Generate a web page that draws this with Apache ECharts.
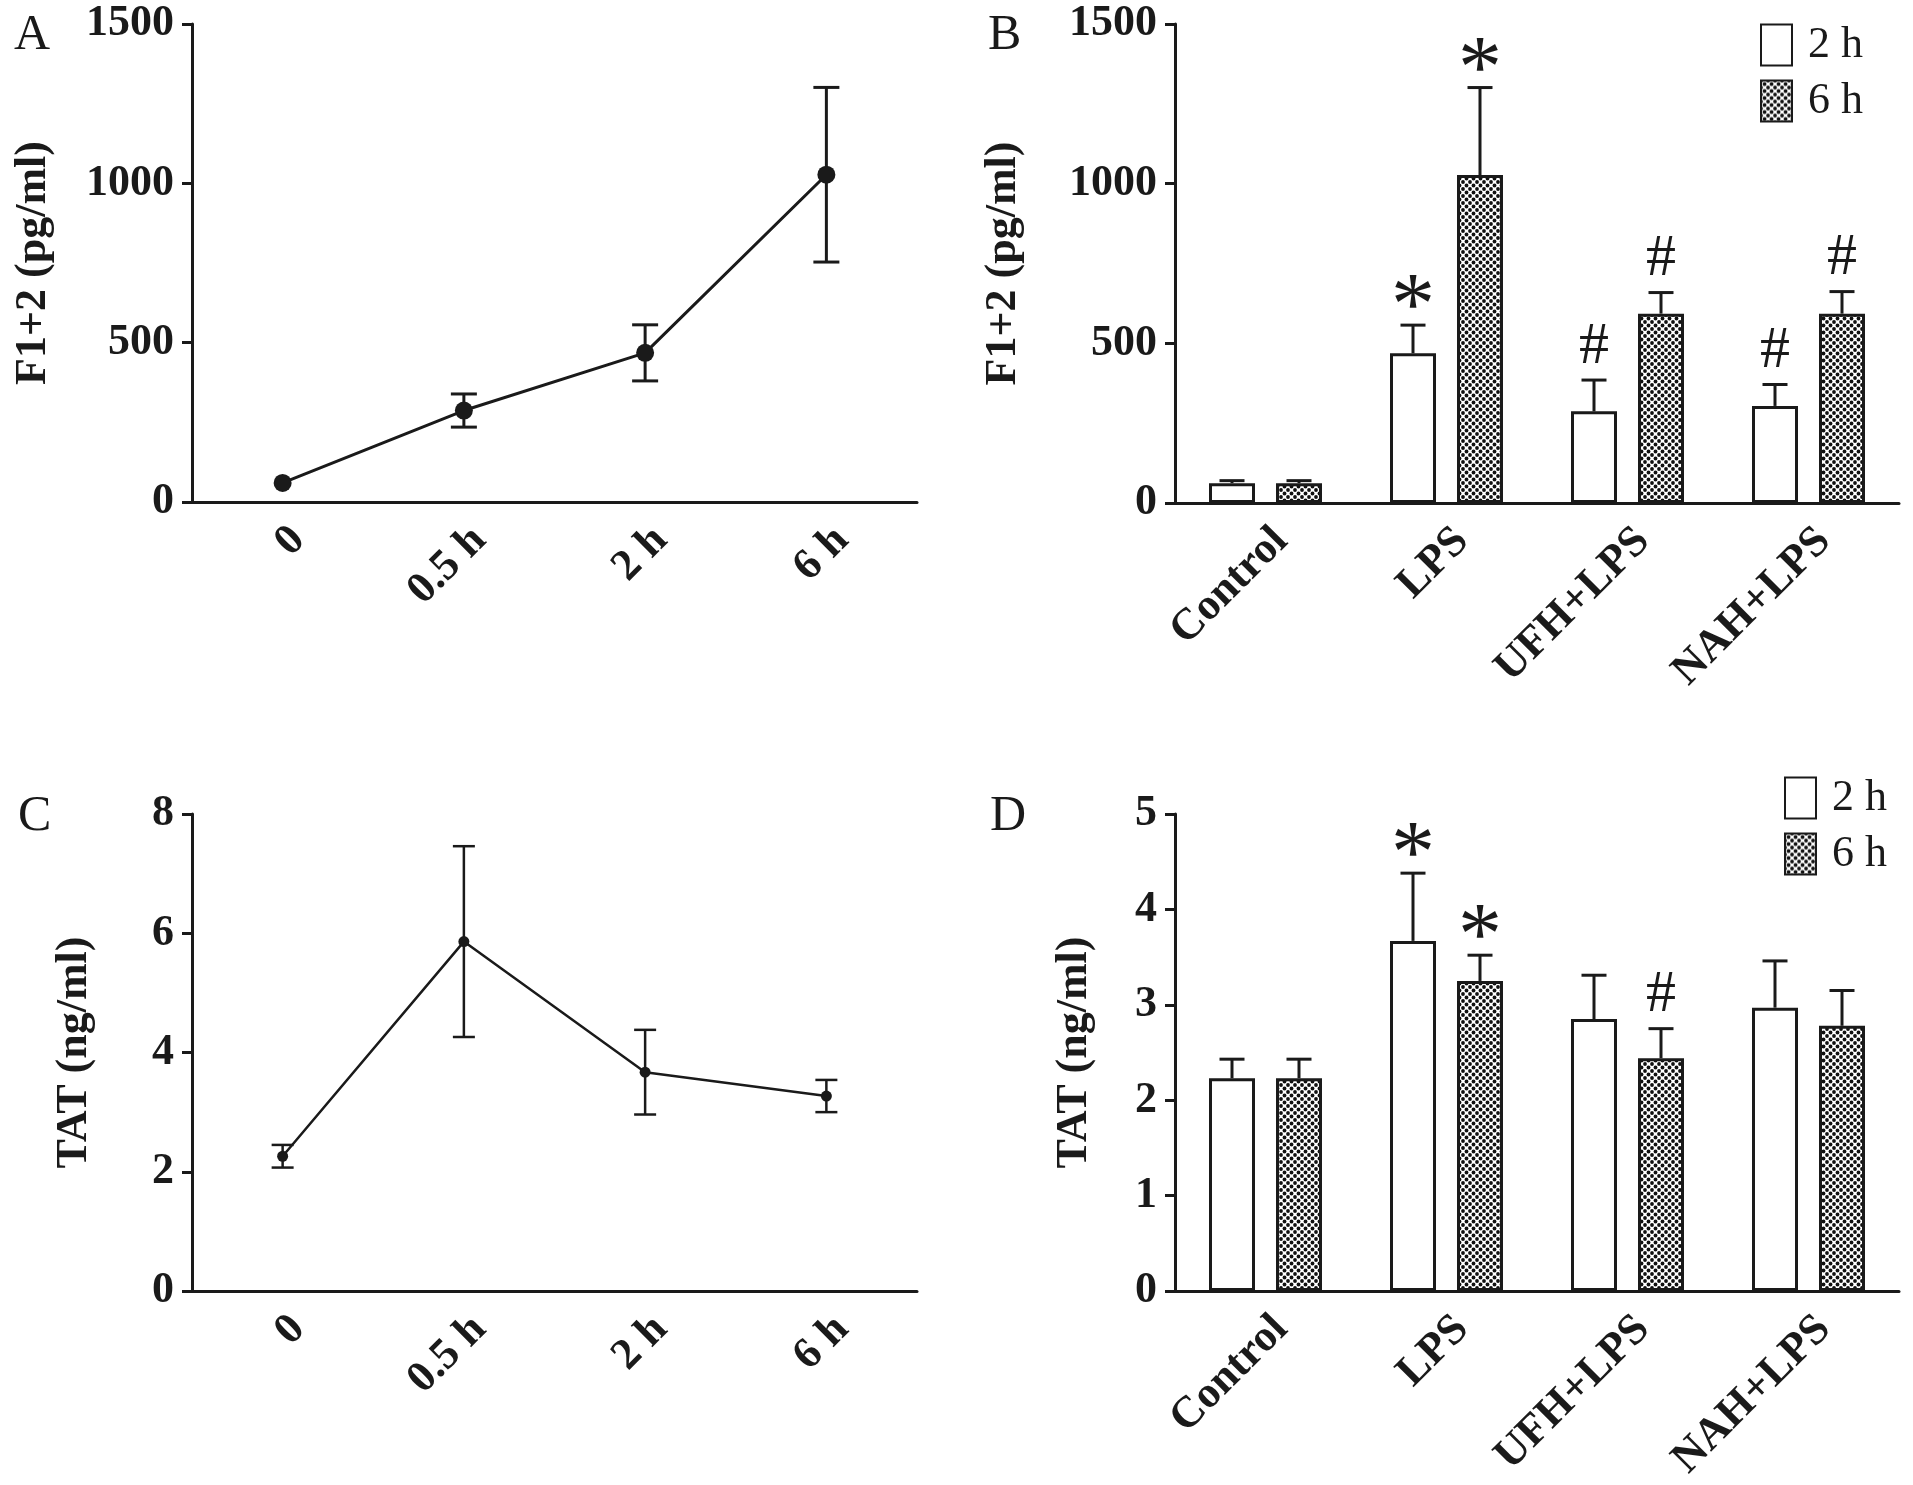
<!DOCTYPE html>
<html>
<head>
<meta charset="utf-8">
<title>F1+2 and TAT</title>
<script src="https://cdn.jsdelivr.net/npm/echarts@6/dist/echarts.min.js"></script>
<style>
  html, body { margin: 0; padding: 0; background: #fff; }
  #chart { width: 1913px; height: 1485px; }
</style>
</head>
<body>
<div id="chart"></div>
<script>
// categories
var timeLabels = ['0', '0.5 h', '2 h', '6 h'];
var groupLabels = ['Control', 'LPS', 'UFH+LPS', 'NAH+LPS'];
var legendNames = ['2 h', '6 h'];

// A - F1+2 over time (pg/ml), mean and SD
var f12Time = [60, 287, 468, 1027];
var f12TimeSd = [0, 52, 88, 274];

// B - F1+2 by group
var f12Bar2h = [62, 469, 287, 304];
var f12Bar2hSd = [8, 88, 98, 67];
var f12Bar6h = [62, 1027, 593, 593];
var f12Bar6hSd = [8, 274, 66, 69];
var f12Mark2h = ['', '*', '#', '#'];
var f12Mark6h = ['', '*', '#', '#'];

// C - TAT over time (ng/ml)
var tatTime = [2.26, 5.86, 3.67, 3.27];
var tatTimeSd = [0.19, 1.6, 0.71, 0.27];

// D - TAT by group
var tatBar2h = [2.23, 3.67, 2.85, 2.97];
var tatBar2hSd = [0.2, 0.71, 0.46, 0.49];
var tatBar6h = [2.23, 3.25, 2.44, 2.78];
var tatBar6hSd = [0.2, 0.27, 0.31, 0.37];
var tatMark2h = ['', '*', '', ''];
var tatMark6h = ['', '*', '#', ''];

var SERIF = '"Liberation Serif", "Times New Roman", serif';
var INK = '#1a1a1a';
var BAR_W = 46;
var BAR_GAP = 21;
var OFF = (BAR_W + BAR_GAP) / 2;

// dotted fill for the 6 h bars
function makeDots() {
  var c = document.createElement('canvas');
  c.width = 7; c.height = 7;
  var g = c.getContext('2d');
  g.fillStyle = '#fff';
  g.fillRect(0, 0, 7, 7);
  g.fillStyle = '#111';
  [[0, 0], [7, 0], [0, 7], [7, 7], [3.5, 3.5]].forEach(function (p) {
    g.beginPath();
    g.arc(p[0], p[1], 1.9, 0, Math.PI * 2);
    g.fill();
  });
  return c;
}
var dots = { image: makeDots(), repeat: 'repeat' };

function xAxisOf(gi, labels) {
  return {
    type: 'category', gridIndex: gi, data: labels,
    axisLine: { lineStyle: { color: INK, width: 3 } },
    axisTick: { alignWithLabel: true, length: 11, lineStyle: { color: INK, width: 3 } },
    axisLabel: {
      interval: 0, rotate: 45, margin: 16, verticalAlign: 'top',
      fontSize: 44, fontWeight: 'bold', color: INK, fontFamily: SERIF
    }
  };
}

function yAxisOf(gi, max, step, name, gap) {
  return {
    type: 'value', gridIndex: gi, min: 0, max: max, interval: step,
    name: name, nameLocation: 'middle', nameGap: gap,
    nameTextStyle: { fontSize: 44, fontWeight: 'bold', color: INK, fontFamily: SERIF },
    axisLine: { show: true, lineStyle: { color: INK, width: 3 } },
    axisTick: { show: true, length: 10, lineStyle: { color: INK, width: 3 } },
    axisLabel: {
      margin: 18, fontSize: 44, fontWeight: 'bold', color: INK, fontFamily: SERIF,
      formatter: function (v) { return String(v); }
    },
    splitLine: { show: false }
  };
}

// error bars; upOnly for the bar panels, marks drawn above the cap
function errBars(ai, means, sds, opts) {
  return {
    type: 'custom', xAxisIndex: ai, yAxisIndex: ai, z: 5, silent: true,
    data: means.map(function (m, i) { return [i, m, sds[i]]; }),
    renderItem: function (params, api) {
      var i = api.value(0), m = api.value(1), sd = api.value(2);
      var kids = [];
      var st = { stroke: INK, lineWidth: opts.lw };
      var p0 = api.coord([i, m]);
      var pt = api.coord([i, m + sd]);
      var pb = api.coord([i, opts.upOnly ? m : m - sd]);
      var x = p0[0] + (opts.offset || 0);
      var h = opts.cap / 2;
      if (sd > 0) {
        kids.push({ type: 'line', shape: { x1: x, y1: pb[1], x2: x, y2: pt[1] }, style: st });
        kids.push({ type: 'line', shape: { x1: x - h, y1: pt[1], x2: x + h, y2: pt[1] }, style: st });
        if (!opts.upOnly) {
          kids.push({ type: 'line', shape: { x1: x - h, y1: pb[1], x2: x + h, y2: pb[1] }, style: st });
        }
      }
      var mk = opts.marks ? opts.marks[params.dataIndex] : '';
      if (mk) {
        var star = mk === '*';
        kids.push({
          type: 'text', x: x, y: pt[1] - (star ? 15 : 33),
          style: {
            text: mk, fill: INK, fontFamily: SERIF,
            fontSize: star ? 88 : 60,
            align: 'center', verticalAlign: 'middle'
          }
        });
      }
      return { type: 'group', children: kids };
    }
  };
}

function lineOf(ai, data, size, lw) {
  return {
    type: 'line', xAxisIndex: ai, yAxisIndex: ai, data: data, z: 6,
    symbol: 'circle', symbolSize: size,
    itemStyle: { color: INK },
    lineStyle: { color: INK, width: lw },
    silent: true
  };
}

function barOf(ai, name, data, fill) {
  return {
    type: 'bar', name: name, xAxisIndex: ai, yAxisIndex: ai, data: data,
    barWidth: BAR_W, barGap: (BAR_GAP / BAR_W * 100) + '%',
    itemStyle: { color: fill, borderColor: INK, borderWidth: 3 },
    silent: true
  };
}

function legendAt(left, top) {
  return {
    data: legendNames, orient: 'vertical', left: left, top: top, padding: 0,
    icon: 'rect', itemWidth: 31, itemHeight: 41, itemGap: 12, selectedMode: false,
    formatter: function (n) { return ' ' + n; },
    textStyle: { fontSize: 44, fontFamily: SERIF, color: INK }
  };
}

function letter(t, left, top) {
  return { type: 'text', left: left, top: top, style: { text: t, fontSize: 50, fontFamily: SERIF, fill: INK } };
}

var chart = echarts.init(document.getElementById('chart'));
chart.setOption({
  animation: false,
  backgroundColor: '#fff',
  textStyle: { fontFamily: SERIF },
  grid: [
    { left: 192, top: 24, width: 725, height: 478 },
    { left: 1175, top: 24, width: 724, height: 479 },
    { left: 192, top: 814, width: 725, height: 477 },
    { left: 1175, top: 814, width: 724, height: 477 }
  ],
  xAxis: [
    xAxisOf(0, timeLabels),
    xAxisOf(1, groupLabels),
    xAxisOf(2, timeLabels),
    xAxisOf(3, groupLabels)
  ],
  yAxis: [
    yAxisOf(0, 1500, 500, 'F1+2 (pg/ml)', 136),
    yAxisOf(1, 1500, 500, 'F1+2 (pg/ml)', 149),
    yAxisOf(2, 8, 2, 'TAT (ng/ml)', 95),
    yAxisOf(3, 5, 1, 'TAT (ng/ml)', 78)
  ],
  legend: [legendAt(1760, 23), legendAt(1784, 776)],
  graphic: [
    letter('A', 14, 11),
    letter('B', 988, 11),
    letter('C', 18, 792),
    letter('D', 990, 792)
  ],
  series: [
    errBars(0, f12Time, f12TimeSd, { lw: 3, cap: 26 }),
    lineOf(0, f12Time, 18, 3),

    barOf(1, '2 h', f12Bar2h, '#fff'),
    barOf(1, '6 h', f12Bar6h, dots),
    errBars(1, f12Bar2h, f12Bar2hSd, { lw: 3, cap: 25, upOnly: true, offset: -OFF, marks: f12Mark2h }),
    errBars(1, f12Bar6h, f12Bar6hSd, { lw: 3, cap: 25, upOnly: true, offset: OFF, marks: f12Mark6h }),

    errBars(2, tatTime, tatTimeSd, { lw: 2.5, cap: 22 }),
    lineOf(2, tatTime, 11, 2.5),

    barOf(3, '2 h', tatBar2h, '#fff'),
    barOf(3, '6 h', tatBar6h, dots),
    errBars(3, tatBar2h, tatBar2hSd, { lw: 3, cap: 25, upOnly: true, offset: -OFF, marks: tatMark2h }),
    errBars(3, tatBar6h, tatBar6hSd, { lw: 3, cap: 25, upOnly: true, offset: OFF, marks: tatMark6h })
  ]
});
window.addEventListener('resize', function () { chart.resize(); });
</script>
</body>
</html>
